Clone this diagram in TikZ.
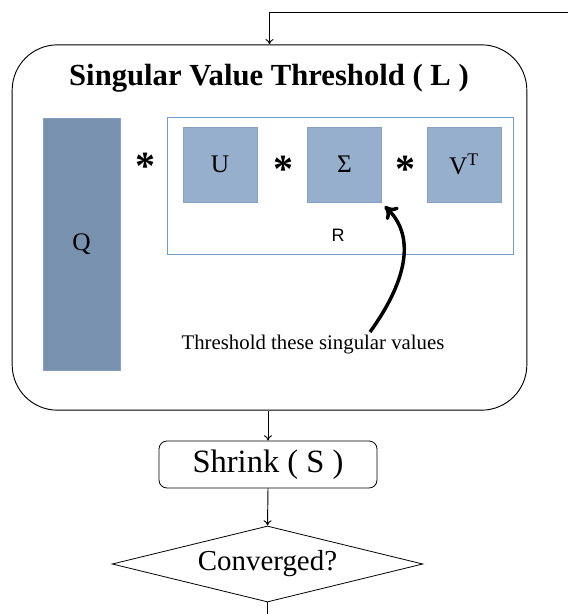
\documentclass[tikz,border=0pt]{standalone}
\usepackage{fontspec}
\setmainfont{Liberation Serif}
\newfontfamily\labelsans{Liberation Sans}
\usetikzlibrary{arrows.meta, positioning, shapes.geometric, calc}
\definecolor{qblue}{HTML}{7891AE}
\definecolor{mblue}{HTML}{95AFCC}
\definecolor{mborder}{HTML}{84A1C3}
\definecolor{rborder}{HTML}{6F9BCF}
\tikzset{
  stage/.style={
    rectangle, rounded corners=34pt, minimum width=386pt, minimum height=274pt,
    draw=black, line width=0.7pt
  },
  qbox/.style={
    rectangle, minimum width=57.75pt, minimum height=189pt,
    draw=mborder, fill=qblue, font=\fontsize{19}{22}\selectfont
  },
  matbox/.style={
    rectangle, minimum width=55.5pt, minimum height=56.25pt,
    draw=mborder, fill=mblue, font=\fontsize{19}{22}\selectfont
  },
  rframe/.style={
    rectangle, minimum width=259.5pt, minimum height=102.75pt,
    draw=rborder, line width=0.5pt
  },
  times/.style={font=\fontsize{30}{30}\bfseries\selectfont, inner sep=0pt},
  shrinkbox/.style={
    rectangle, rounded corners=6pt, minimum width=163.5pt, minimum height=35.25pt,
    draw=black, line width=0.6pt, font=\fontsize{24.4}{28}\selectfont
  },
  testbox/.style={
    diamond, aspect=4.09, minimum width=233pt, minimum height=57pt, inner sep=0pt,
    draw=black, line width=0.6pt, font=\fontsize{21.7}{25}\selectfont
  },
  arrow/.style={
    ->, >={To[length=4pt,width=6pt]}, line width=0.7pt, color=black
  },
  pointer/.style={
    ->, >={To[length=9pt,width=13pt]}, line width=2.6pt, color=black
  }
}

\begin{document}
\begin{tikzpicture}[x=0.75pt, y=-0.75pt]
\useasboundingbox (0,0) rectangle (568,614);

% outer block
\node[stage] (svt) at (269.5,227.5) {};
\node[font=\fontsize{23}{27}\bfseries\selectfont] (heading) at (269,78) {Singular Value Threshold ( L )};

% factors
\node[qbox] (q) at (81.5,244) {Q};
\node[times] (star1) at (145,166) {*};
\node[rframe] (r) at (340,185.5) {};
\node[matbox] (u) at (220,164.5) {U};
\node[times] (star2) at (283,169) {*};
\node[matbox] (sigma) at (344.5,164.5) {Σ};
\node[times] (star3) at (405,169) {*};
\node[matbox] (v) at (464,164.5) {V\textsuperscript{T}};
\node[font=\labelsans\fontsize{13.5}{16}\selectfont] (rlabel) at (338,235) {R};

\node[font=\fontsize{15.6}{18}\selectfont] (note) at (313,345) {Threshold these singular values};
\coordinate (hint) at (370,332);
\draw[pointer] (hint) .. controls (404,285) and (418,238) .. ($(sigma.south east)+(3,4)$);

% flow
\node[shrinkbox] (shrink) at (268,464.5) {Shrink ( S )};
\node[testbox] (check) at (267.5,564) {Converged?};
\coordinate (feedin) at (568,12);
\coordinate (exit) at (267.5,614);

\draw[arrow] (feedin) -| (svt.north);
\draw[arrow] (svt.south -| shrink.north) -- (shrink.north);
\draw[arrow] (shrink.south) -- (check.north);
\draw[line width=0.7pt] (check.south) -- (exit);
\end{tikzpicture}
\end{document}
